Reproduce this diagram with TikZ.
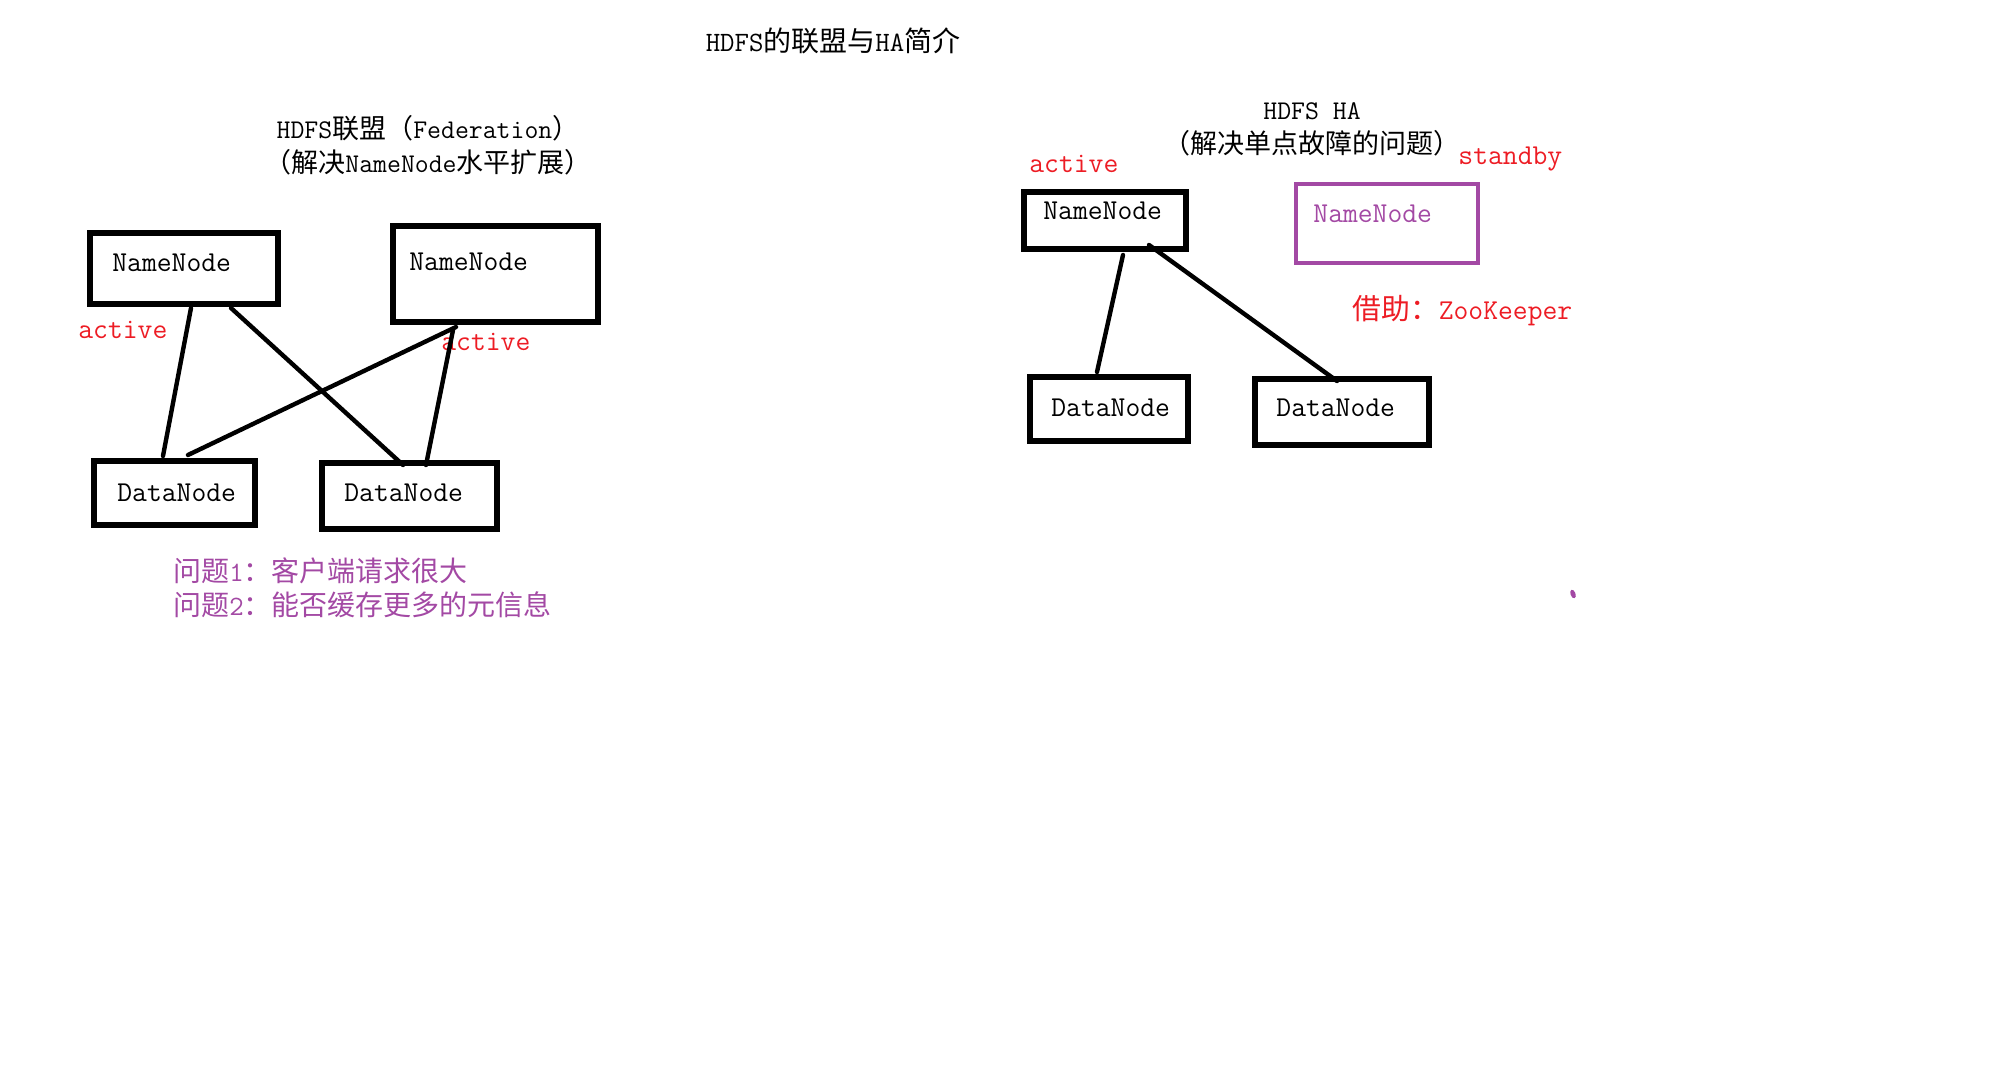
\documentclass[tikz,border=0pt]{standalone}
\usepackage{fontspec}
\newfontfamily\cjk{Noto Sans CJK SC}
\usetikzlibrary{calc}
\definecolor{paintred}{RGB}{237,28,36}
\definecolor{paintpurple}{RGB}{163,73,164}
\tikzset{
	box/.style={draw, line width=2.6pt, inner sep=0pt, outer sep=0pt, anchor=north west},
	link/.style={line width=2.2pt, line cap=round},
	tag/.style={inner sep=0pt, anchor=base west, font=\fontsize{14.4}{17}\selectfont\ttfamily},
	heading/.style={inner sep=0pt, anchor=base, align=center, font=\fontsize{13.5}{17}\selectfont\ttfamily},
}
\begin{document}
\begin{tikzpicture}[x=0.5pt, y=-0.5pt]
		\useasboundingbox (0, 0) rectangle (2006, 1074);

		\node[heading, font=\fontsize{14}{17}\selectfont\ttfamily] (title) at (833, 52) {HDFS{\cjk 的联盟与}HA{\cjk 简介}};

		\node[heading] (fedcap) at (428, 173) {HDFS{\cjk 联盟（}Federation{\cjk ）}\\{\cjk （解决}NameNode{\cjk 水平扩展）}};

		\node[box, minimum width=94pt, minimum height=35.5pt] (nn1) at (90, 233) {};
		\node[box, minimum width=102.5pt, minimum height=48pt] (nn2) at (393, 226) {};
		\node[box, minimum width=80.5pt, minimum height=32pt] (dn1) at (94, 461) {};
		\node[box, minimum width=87.5pt, minimum height=33pt] (dn2) at (322, 463) {};

		\node[tag] (nn1name) at (112, 272) {NameNode};
		\node[tag] (nn2name) at (409, 271) {NameNode};
		\node[tag] (dn1name) at (117, 502) {DataNode};
		\node[tag] (dn2name) at (344, 502) {DataNode};
		\node[tag, text=paintred] (act1) at (78, 339) {active};
		\node[tag, text=paintred] (act2) at (441, 351) {active};

		\draw[link] ($(nn1.south west)+(101, 4)$) -- ($(dn1.north west)+(69, -5)$);
		\draw[link] ($(nn1.south west)+(141, 4)$) -- ($(dn2.north west)+(81, 2)$);
		\draw[link] ($(nn2.south west)+(63, 5)$) -- ($(dn1.north west)+(94, -6)$);
		\draw[link] ($(nn2.south west)+(60, 8)$) -- ($(dn2.north west)+(104, 2)$);

		\node[tag, text=paintpurple, font=\fontsize{14}{17}\selectfont\ttfamily] (q1) at (173, 581) {{\cjk 问题}1{\cjk ：客户端请求很大}};
		\node[tag, text=paintpurple, font=\fontsize{14}{17}\selectfont\ttfamily] (q2) at (173, 615) {{\cjk 问题}2{\cjk ：能否缓存更多的元信息}};

		\node[heading] (hacap) at (1312, 154) {HDFS HA\\{\cjk （解决单点故障的问题）}};

		\node[box, minimum width=81pt, minimum height=28.5pt] (nn3) at (1024, 192) {};
		\node[box, draw=paintpurple, line width=2.3pt, minimum width=91pt, minimum height=39.5pt] (nn4) at (1296, 184) {};
		\node[box, minimum width=79pt, minimum height=32pt] (dn3) at (1030, 377) {};
		\node[box, minimum width=87pt, minimum height=33pt] (dn4) at (1255, 379) {};

		\node[tag] (nn3name) at (1043, 220) {NameNode};
		\node[tag, text=paintpurple] (nn4name) at (1313, 223) {NameNode};
		\node[tag] (dn3name) at (1051, 417) {DataNode};
		\node[tag] (dn4name) at (1276, 417) {DataNode};
		\node[tag, text=paintred] (act3) at (1029, 173) {active};
		\node[tag, text=paintred] (standby) at (1458, 165) {standby};
		\node[tag, text=paintred] (zk) at (1352, 320) {{\cjk 借助：}ZooKeeper};

		\draw[link] ($(nn3.south west)+(99, 6)$) -- ($(dn3.north west)+(67, -5)$);
		\draw[link] ($(nn3.south west)+(125, -4)$) -- ($(dn4.north west)+(82, 2)$);

		\fill[paintpurple] (1573, 594) ellipse [x radius=2.5, y radius=4.5, rotate=20];
	\end{tikzpicture}
\end{document}
